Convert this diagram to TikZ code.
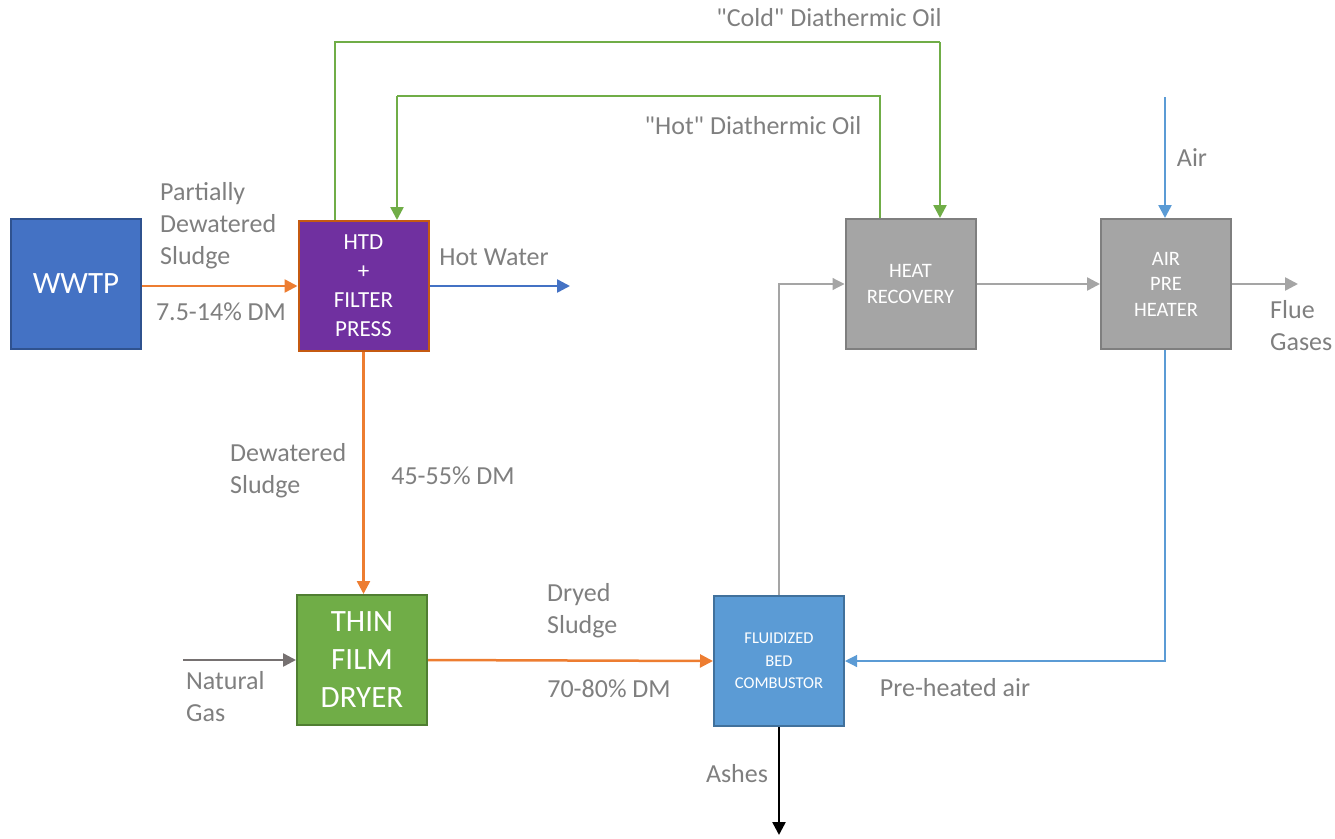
\documentclass[tikz,border=0pt]{standalone}
\usepackage{fontspec}
\setmainfont{Carlito}[Ligatures=TeXOff]
\usetikzlibrary{arrows.meta}
\definecolor{cOrange}{HTML}{ED7D31}
\definecolor{cBlue}{HTML}{4472C4}
\definecolor{cBlueDark}{HTML}{2F528F}
\definecolor{cLBlue}{HTML}{5B9BD5}
\definecolor{cLBlueDark}{HTML}{41719C}
\definecolor{cGreen}{HTML}{70AD47}
\definecolor{cGreenDark}{HTML}{507E32}
\definecolor{cGray}{HTML}{A5A5A5}
\definecolor{cGrayDark}{HTML}{7F7F7F}
\definecolor{cGas}{HTML}{767171}
\definecolor{cPurple}{HTML}{7030A0}
\definecolor{cBrown}{HTML}{C55A11}
\definecolor{cText}{HTML}{7F7F7F}
\tikzset{
  box/.style={draw, line width=2pt, minimum width=130pt, minimum height=130pt, inner sep=0pt, text=white, align=center},
  lbl/.style={text=cText, inner sep=0pt, align=left, font=\fontsize{26}{32}\selectfont},
  bigarrow/.style={line width=2.5pt, -{Triangle[length=13pt,width=13pt]}},
  smallarrow/.style={line width=1.2pt, -{Triangle[length=12pt,width=12pt]}},
}
\begin{document}
\begin{tikzpicture}[x=1pt,y=-1pt]
\useasboundingbox (0,0) rectangle (1335,838);
% boxes
\node[box, fill=cBlue, draw=cBlueDark, font=\fontsize{31}{38}\selectfont] (wwtp) at (76,284) {WWTP};
\node[box, fill=cPurple, draw=cBrown, font=\fontsize{23}{29}\selectfont] (htd) at (363.5,286) {HTD\\+\\FILTER\\PRESS};
\node[box, fill=cGray, draw=cGrayDark, font=\fontsize{20.5}{26}\selectfont] (hr) at (910.5,284) {HEAT\\RECOVERY};
\node[box, fill=cGray, draw=cGrayDark, font=\fontsize{20.5}{25.5}\selectfont] (aph) at (1166,284) {AIR\\PRE\\HEATER};
\node[box, fill=cGreen, draw=cGreenDark, font=\fontsize{31}{38}\selectfont] (tfd) at (362,660) {THIN\\FILM\\DRYER};
\node[box, fill=cLBlue, draw=cLBlueDark, font=\fontsize{16.5}{22.5}\selectfont] (fbc) at (779,661) {FLUIDIZED\\BED\\COMBUSTOR};
% free ends and corners
\coordinate (hw) at (570,286);
\coordinate (ng) at (183,660);
\coordinate (ash) at (779,835);
\coordinate (flue) at (1298,284);
\coordinate (air) at (1165,97);
\coordinate (c1) at (335,42);
\coordinate (c2) at (940,42);
\coordinate (h1) at (880,96);
\coordinate (h2) at (397,96);
% connectors
\draw[bigarrow, cOrange] (wwtp.east |- htd.west) -- (htd.west);
\draw[bigarrow, cBlue] (htd.east) -- (hw);
\draw[bigarrow, cOrange] (htd.south) -- (htd.south |- tfd.north);
\draw[bigarrow, cGas] (ng) -- (tfd.west);
\draw[bigarrow, cOrange] (tfd.east) -- (fbc.west);
\draw[bigarrow, black] (fbc.south) -- (ash);
\draw[smallarrow, cGray] (fbc.north) |- (hr.west);
\draw[bigarrow, cGray] (hr.east) -- (aph.west);
\draw[bigarrow, cGray] (aph.east) -- (flue);
\draw[bigarrow, cLBlue] (air) -- (air |- aph.north);
\draw[smallarrow, cLBlue] (aph.south -| air) |- (fbc.east);
\draw[line width=1.2pt, cGreen] (c1 |- htd.north) -- (c1) -- (c2);
\draw[bigarrow, cGreen] (c2) -- (c2 |- hr.north);
\draw[line width=1.2pt, cGreen] (h1 |- hr.north) -- (h1) -- (h2);
\draw[bigarrow, cGreen] (h2) -- (h2 |- htd.north);
% labels
\node[lbl, anchor=west] (l1) at (160,226) {Partially\\Dewatered\\Sludge};
\node[lbl] (l2) at (221,312) {7.5-14\% DM};
\node[lbl] (l3) at (494,257) {Hot Water};
\node[lbl, anchor=west] (l4) at (230,471) {Dewatered\\Sludge};
\node[lbl] (l5) at (453,476) {45-55\% DM};
\node[lbl, anchor=west] (l6) at (186,697) {Natural\\Gas};
\node[lbl, anchor=west] (l7) at (547,611) {Dryed\\Sludge};
\node[lbl] (l8) at (609,689) {70-80\% DM};
\node[lbl] (l9) at (737,774) {Ashes};
\node[lbl] (l10) at (955,688) {Pre-heated air};
\node[lbl] (l11) at (829,18) {"Cold" Diathermic Oil};
\node[lbl] (l12) at (753,126) {"Hot" Diathermic Oil};
\node[lbl] (l13) at (1192,158) {Air};
\node[lbl, anchor=west] (l14) at (1270,326) {Flue\\Gases};
\end{tikzpicture}
\end{document}
